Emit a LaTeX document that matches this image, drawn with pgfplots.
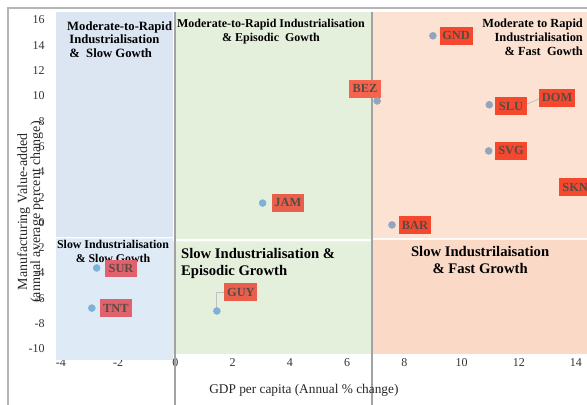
\documentclass[border=0pt]{standalone}
\usepackage{pgfplots}
\pgfplotsset{compat=1.18}
\usepackage{fontspec}
\setmainfont{Liberation Serif}
\definecolor{blueA}{HTML}{DCE6F2}
\definecolor{blueB}{HTML}{DEEAF6}
\definecolor{greenA}{HTML}{E4EFDC}
\definecolor{orangeA}{HTML}{FBE2D3}
\definecolor{orangeB}{HTML}{FADAC6}
\definecolor{lab}{HTML}{F5492F}
\definecolor{labg}{HTML}{E8604C}
\definecolor{labp}{HTML}{E0626C}
\definecolor{labtxt}{HTML}{5A4A44}
\definecolor{dotA}{HTML}{93A5BE}
\definecolor{dotB}{HTML}{7DB2D6}
\definecolor{sep}{HTML}{A2A2A2}
\tikzset{lbl/.style={fill=#1, text=labtxt, font=\fontsize{9.3}{10}\selectfont\bfseries, minimum width=24pt, minimum height=13pt, inner xsep=2pt, inner ysep=1pt}}
\begin{document}
\begin{tikzpicture}
\begin{axis}[
  scale only axis, width=398.8pt, height=261.4pt,
  xmin=-4.2, xmax=14.385, ymin=-10.9, ymax=16.65,
  clip=false,
  axis line style={draw=none},
  major tick length=0pt,
  xtick={-4,-2,0,2,4,6,8,10,12,14},
  ytick={-10,-8,-6,-4,-2,0,2,4,6,8,10,12,14,16},
  /pgf/number format/assume math mode=true,
  tick label style={font=\fontsize{9}{10}\selectfont, text=black!80},
  xticklabel style={anchor=base, yshift=-5pt},
  yticklabel style={anchor=east, inner sep=0pt, xshift=-7.7pt},
]
% quadrant backgrounds
\addplot[fill=blueA, draw=none] coordinates {(-4.17,16.63) (-0.09,16.63) (-0.09,-1.15) (-4.17,-1.15) (-4.17,16.63)};
\addplot[fill=blueB, draw=none] coordinates {(-4.17,-1.27) (-0.09,-1.27) (-0.09,-10.87) (-4.17,-10.87) (-4.17,-1.27)};
\addplot[fill=greenA, draw=none] coordinates {(0,16.63) (6.88,16.63) (6.88,-1.31) (0,-1.31) (0,16.63)};
\addplot[fill=greenA, draw=none] coordinates {(-0.1,-1.50) (6.88,-1.50) (6.88,-10.4) (-0.1,-10.4) (-0.1,-1.50)};
\addplot[fill=orangeA, draw=none] coordinates {(6.9,16.63) (14.385,16.63) (14.385,-1.25) (6.9,-1.25) (6.9,16.63)};
\addplot[fill=orangeB, draw=none] coordinates {(6.9,-1.37) (14.385,-1.37) (14.385,-10.4) (6.9,-10.4) (6.9,-1.37)};
% separator lines
\addplot[sep, line width=1.5pt] coordinates {(0,16.63) (0,-14.43)};
\addplot[sep, line width=1.5pt] coordinates {(6.88,16.63) (6.88,-14.43)};
% frame
\addplot[sep!80, line width=1.5pt] coordinates {(-5.85,-14.43) (-5.85,16.95) (14.385,16.95)};
% region titles
\node[anchor=north west, align=left, font=\fontsize{9.5}{10.2}\selectfont\bfseries, inner sep=0pt] at (axis cs:-3.79,15.92) {Moderate-to-Rapid\\ \,Industrialisation\\ \,\& \ Slow Gowth};
\node[anchor=north, align=center, font=\fontsize{9}{10.5}\selectfont\bfseries, inner sep=0pt] at (axis cs:3.34,16.08) {Moderate-to-Rapid Industrialisation\\ \& Episodic \ Gowth};
\node[anchor=north east, align=right, font=\fontsize{9.3}{10.2}\selectfont\bfseries, inner sep=0pt] at (axis cs:14.25,16.08) {Moderate to Rapid\\ Industrialisation\\ \& Fast \ Gowth};
\node[anchor=north, align=center, font=\fontsize{8.9}{10.5}\selectfont\bfseries, inner sep=0pt] at (axis cs:-2.18,-1.39) {Slow Industrialisation\\ \& Slow Gowth};
\node[anchor=north west, align=left, font=\fontsize{11}{12.5}\selectfont\bfseries, inner sep=0pt] at (axis cs:0.19,-2.02) {Slow Industrialisation \&\\ Episodic Growth};
\node[anchor=north, align=center, font=\fontsize{11}{12.5}\selectfont\bfseries, inner sep=0pt] at (axis cs:10.65,-1.86) {Slow Industrilaisation\\ \& Fast Growth};
% leader lines
\addplot[black!25, line width=0.6pt] coordinates {(12.29,9.36) (12.71,9.76)};
\addplot[black!25, line width=0.6pt] coordinates {(1.45,-7.0) (1.45,-5.5) (1.73,-5.5)};
% data points
\addplot[only marks, mark=*, mark size=2.6pt, dotA, mark options={draw=none}] coordinates {
(9.0,14.75) (7.05,9.6) (10.97,9.3) (10.95,5.65) (7.57,-0.2)};
\addplot[only marks, mark=*, mark size=2.6pt, dotB, mark options={draw=none}] coordinates {
(3.05,1.53) (1.45,-7.0) (-2.75,-3.6) (-2.92,-6.77)};
% labels
\node[lbl=lab] at (axis cs:9.81,14.74) {GND};
\node[lbl=lab!85] at (axis cs:6.63,10.55) {BEZ};
\node[lbl=lab] at (axis cs:11.73,9.20) {SLU};
\node[lbl=lab] at (axis cs:13.34,9.84) {DOM};
\node[lbl=lab] at (axis cs:11.73,5.65) {SVG};
\node[lbl=lab] at (axis cs:13.97,2.80) {SKN};
\node[lbl=labg] at (axis cs:3.93,1.54) {JAM};
\node[lbl=lab] at (axis cs:8.37,-0.20) {BAR};
\node[lbl=labp] at (axis cs:-1.90,-3.66) {SUR};
\node[lbl=labp] at (axis cs:-2.08,-6.76) {TNT};
\node[lbl=labg] at (axis cs:2.29,-5.50) {GUY};
% axis labels
\node[font=\fontsize{10}{11}\selectfont, text=black!85] at (axis cs:4.49,-13.24) {GDP per capita (Annual \% change)};
\node[rotate=90, align=center, font=\fontsize{10.5}{9.75}\selectfont, text=black!85] at (axis cs:-5.07,0.83) {Manufacturing Value-added\\ (annual average percent change)};
\coordinate (bbsw) at (axis cs:-6.13,-14.43);
\coordinate (bbne) at (axis cs:14.385,17.58);
\end{axis}
\pgfresetboundingbox
\path[use as bounding box] (bbsw) rectangle (bbne);
\end{tikzpicture}
\end{document}
